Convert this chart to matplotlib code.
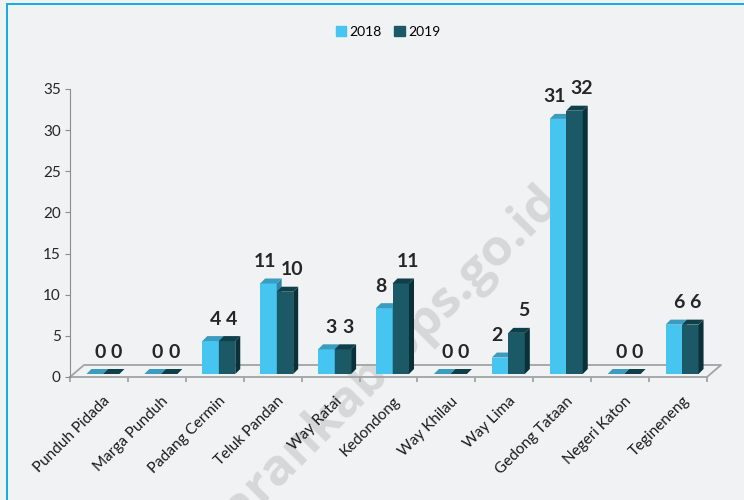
import numpy as np
import matplotlib
matplotlib.use("Agg")
import matplotlib.pyplot as plt
from matplotlib.patches import Polygon, Rectangle, Patch
from matplotlib.lines import Line2D
from matplotlib.transforms import ScaledTranslation

plt.rcParams['font.family'] = ['Lato', 'DejaVu Sans']

# data
kecamatan = ["Punduh Pidada", "Marga Punduh", "Padang Cermin", "Teluk Pandan",
             "Way Ratai", "Kedondong", "Way Khilau", "Way Lima",
             "Gedong Tataan", "Negeri Katon", "Tegineneng"]
v2018 = [0, 0, 4, 11, 3, 8, 0, 2, 31, 0, 6]
v2019 = [0, 0, 4, 10, 3, 11, 0, 5, 32, 0, 6]
years = ["2018", "2019"]
yticks = [0, 5, 10, 15, 20, 25, 30, 35]

# colours: front, top, side
c18 = ("#46c5f1", "#3b9cbf", "#2e86a6")
c19 = ("#1b5966", "#0f3f49", "#0a313a")

W, H = 744, 500
fig = plt.figure(figsize=(W / 100, H / 100), dpi=100, facecolor="#f1f2f4")

def px(dx, dy):
    return ScaledTranslation(dx / 100, dy / 100, fig.dpi_scale_trans)

ax = fig.add_axes([70 / W, 123 / H, 637 / W, 288 / H])
ax.set_facecolor("none")
ax.set_xlim(-0.5, 10.5)
ax.set_ylim(0, 35)

# px -> data units
ux = 11 / 637
uy = 35 / 288

# floor
fdx, fdy = 14 * ux, 12 * uy
floor_x = [-0.5, 10.5, 10.5 + fdx, -0.5 + fdx, -0.5]
floor_y = [0, 0, fdy, fdy, 0]
ax.add_line(Line2D(floor_x, floor_y, color="#a3a3a3", lw=1.3, clip_on=False, zorder=1))

# bars with fake depth
x = np.arange(len(kecamatan))
w = 0.285
sh = 4 * ux
ddx, ddy = 5 * ux, 5 * uy
lift = ax.transData + px(0, 3)

def bar3d(left, vals, cols):
    fr = ax.bar(left, vals, w, align="edge", color=cols[0], lw=0, zorder=2)
    for p in fr:
        p.set_transform(lift)
    for xl, v in zip(left, vals):
        side = [(xl + w, 0), (xl + w + ddx, ddy), (xl + w + ddx, v + ddy), (xl + w, v)]
        top = [(xl, v), (xl + ddx, v + ddy), (xl + w + ddx, v + ddy), (xl + w, v)]
        if v > 0:
            ax.add_patch(Polygon(side, closed=True, color=cols[2], lw=0, zorder=2, transform=lift))
        ax.add_patch(Polygon(top, closed=True, color=cols[1], lw=0, zorder=2, transform=lift))

bar3d(x + sh - w, v2018, c18)
bar3d(x + sh, v2019, c19)

# value labels
for xi, a, b in zip(x, v2018, v2019):
    if a == b:
        base, s = 5, 0
    else:
        base, s = 2, 5
    ax.text(xi + sh - w / 2, a, str(a), transform=ax.transData + px(base - s, 25),
            ha="center", va="center", fontsize=14, fontweight="bold", color="#262626", zorder=4)
    ax.text(xi + sh + w / 2, b, str(b), transform=ax.transData + px(base + s, 25),
            ha="center", va="center", fontsize=14, fontweight="bold", color="#262626", zorder=4)

# axes styling
for s in ["top", "right", "bottom"]:
    ax.spines[s].set_visible(False)
ax.spines["left"].set_color("#8c8c8c")
ax.set_yticks(yticks)
ax.tick_params(axis="y", length=3.6, color="#8c8c8c", labelsize=11, labelcolor="#262626", pad=3)
ax.set_xticks([])
ax.set_xticks(np.arange(-0.5, 11, 1), minor=True)
ax.tick_params(axis="x", which="minor", length=3.8, color="#a3a3a3", width=1.3)

for xi, name in zip(x, kecamatan):
    ax.text(xi, 0, name, transform=ax.get_xaxis_transform() + px(4, -17),
            rotation=45, rotation_mode="anchor", ha="right", va="top",
            fontsize=11, color="#1a1a1a")

# legend
handles = [Patch(color=c18[0]), Patch(color=c19[0])]
fig.legend(handles, years, loc="center", bbox_to_anchor=(388 / W, 1 - 32 / H), ncol=2,
           frameon=False, handlelength=0.75, handleheight=0.75, handletextpad=0.25,
           columnspacing=0.9, fontsize=10)

# watermark
fig.text(333 / W, 1 - 412 / H, "pesawarankab.bps.go.id", rotation=45, fontsize=37,
         fontweight="bold", color="#d6d7d9", ha="center", va="center", zorder=-1,
         family="Open Sans")

# border
fig.add_artist(Rectangle((6 / W, 0), 2 / W, 1 - 3 / H, transform=fig.transFigure,
                         color="#16ade5", lw=0))
fig.add_artist(Rectangle((6 / W, 1 - 5 / H), 1 - 6 / W, 2 / H, transform=fig.transFigure,
                         color="#16ade5", lw=0))

fig.savefig("out.png", dpi=100, facecolor=fig.get_facecolor())
